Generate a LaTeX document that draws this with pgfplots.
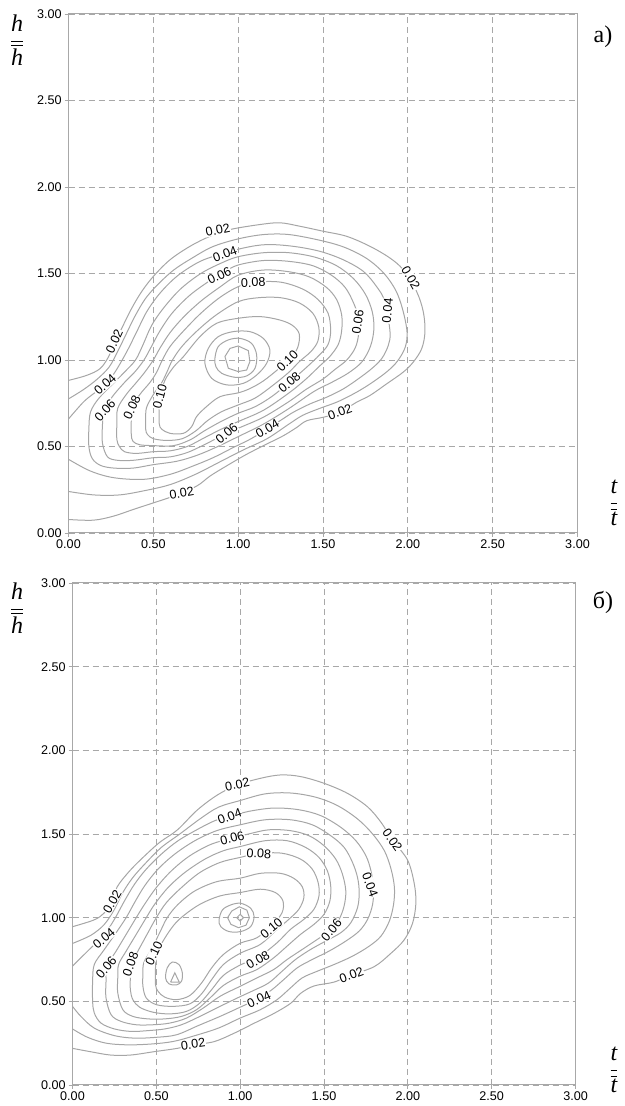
\documentclass[border=0pt]{standalone}
\usepackage{fontspec}
\setmainfont{Liberation Sans}
\newfontfamily\serifrm{Liberation Serif}
\usepackage{pgfplots}
\pgfplotsset{compat=1.18}

\definecolor{cline}{HTML}{A6A6A6}
\definecolor{gridc}{HTML}{A8A8A8}

\pgfplotsset{
  panel/.style={
    scale only axis,
    xmin=0, xmax=3, ymin=0, ymax=3,
    xtick={0,0.5,1,1.5,2,2.5,3},
    ytick={0,0.5,1,1.5,2,2.5,3},
    tick pos=left,
    grid=major,
    major grid style={gridc, dash pattern=on 3pt off 2pt, line width=0.45pt},
    axis line style={gridc, line width=0.5pt},
    tick style={gridc, line width=0.45pt},
    tick align=outside, major tick length=2pt,
    tick label style={font=\fontsize{6.3}{7.5}\selectfont, inner sep=1.2pt},
    /pgf/number format/.cd, fixed, fixed zerofill, precision=2, assume math mode=true,
    /pgfplots/.cd,
  },
  cl/.style={cline, line width=0.5pt, smooth cycle, tension=0.55},
  co/.style={cline, line width=0.5pt, smooth, tension=0.55},
  cp/.style={cline, line width=0.5pt},
}
\tikzset{clabel/.style={font=\fontsize{6.3}{7.5}\selectfont, fill=white, inner sep=0.3pt}}
\newcommand{\clab}[4]{\node[clabel, rotate=#3] at (axis cs:#1,#2) {#4};}

\begin{document}
\begin{tikzpicture}
\useasboundingbox (0,0) rectangle (312.5pt,553pt);

% ---------------- panel a ----------------
\begin{axis}[panel, at={(34.25pt,286.5pt)}, anchor=south west, width=254.5pt, height=259.5pt]
% 0.02
\addplot[co] coordinates {(0,0.882) (0.107,0.911) (0.186,0.950) (0.235,1.017) (0.274,1.105) (0.313,1.182) (0.372,1.298) (0.431,1.395) (0.500,1.483) (0.598,1.579) (0.716,1.657) (0.834,1.715) (0.952,1.754) (1.129,1.783) (1.247,1.793) (1.364,1.773) (1.502,1.744) (1.639,1.715) (1.777,1.657) (1.895,1.589) (1.973,1.521) (2.052,1.395) (2.091,1.279) (2.101,1.163) (2.082,1.066) (2.032,0.988) (1.973,0.930) (1.875,0.862) (1.777,0.795) (1.698,0.756) (1.600,0.698) (1.502,0.669) (1.404,0.649) (1.345,0.610) (1.266,0.562) (1.168,0.514) (1.050,0.455) (0.932,0.388) (0.834,0.329) (0.755,0.271) (0.618,0.213) (0.500,0.174) (0.382,0.136) (0.264,0.097) (0.146,0.074) (0,0.078)};
% 0.03
\addplot[co] coordinates {(0,0.775) (0.09,0.83) (0.17,0.89) (0.24,0.96) (0.29,1.05) (0.34,1.15) (0.39,1.25) (0.45,1.35) (0.52,1.43) (0.62,1.52) (0.73,1.59) (0.85,1.655) (1.0,1.70) (1.15,1.725) (1.30,1.725) (1.49,1.69) (1.63,1.65) (1.76,1.585) (1.86,1.50) (1.93,1.40) (1.97,1.29) (1.995,1.165) (1.985,1.075) (1.94,0.995) (1.88,0.935) (1.79,0.87) (1.70,0.815) (1.59,0.76) (1.48,0.72) (1.38,0.68) (1.30,0.63) (1.17,0.545) (1.03,0.48) (0.89,0.41) (0.75,0.34) (0.60,0.28) (0.45,0.245) (0.30,0.22) (0.15,0.22) (0,0.24)};
% 0.04
\addplot[co] coordinates {(0,0.659) (0.087,0.756) (0.146,0.804) (0.215,0.853) (0.274,0.930) (0.343,1.047) (0.402,1.163) (0.461,1.279) (0.539,1.386) (0.638,1.483) (0.756,1.560) (0.854,1.599) (1.030,1.647) (1.168,1.667) (1.325,1.657) (1.482,1.628) (1.620,1.579) (1.738,1.512) (1.816,1.424) (1.865,1.337) (1.895,1.163) (1.885,1.085) (1.846,1.008) (1.787,0.950) (1.708,0.891) (1.620,0.833) (1.522,0.785) (1.423,0.746) (1.325,0.698) (1.247,0.649) (1.089,0.552) (0.971,0.494) (0.854,0.436) (0.736,0.388) (0.599,0.339) (0.441,0.310) (0.264,0.320) (0.127,0.359) (0,0.426)};
% 0.05
\addplot[cl] coordinates {(0.12,0.50) (0.12,0.60) (0.13,0.70) (0.18,0.78) (0.26,0.86) (0.33,0.93) (0.395,1.0) (0.44,1.09) (0.49,1.20) (0.56,1.30) (0.66,1.41) (0.78,1.50) (0.90,1.56) (1.0,1.597) (1.15,1.62) (1.30,1.62) (1.45,1.595) (1.58,1.545) (1.68,1.47) (1.75,1.38) (1.79,1.28) (1.80,1.18) (1.78,1.08) (1.73,0.99) (1.65,0.925) (1.55,0.87) (1.45,0.82) (1.30,0.72) (1.15,0.63) (1.0,0.557) (0.88,0.50) (0.76,0.45) (0.64,0.415) (0.5,0.395) (0.38,0.375) (0.27,0.375) (0.19,0.39) (0.14,0.43)};
% 0.06
\addplot[cl] coordinates {(0.20,0.52) (0.20,0.62) (0.21,0.71) (0.26,0.79) (0.33,0.87) (0.39,0.93) (0.445,1.0) (0.49,1.08) (0.54,1.17) (0.61,1.27) (0.71,1.37) (0.82,1.45) (0.92,1.51) (1.0,1.549) (1.15,1.575) (1.30,1.57) (1.44,1.545) (1.55,1.49) (1.63,1.42) (1.68,1.33) (1.71,1.24) (1.71,1.15) (1.69,1.07) (1.64,1.00) (1.57,0.945) (1.50,0.89) (1.40,0.83) (1.30,0.76) (1.15,0.67) (1.0,0.605) (0.90,0.56) (0.80,0.51) (0.70,0.465) (0.60,0.44) (0.5,0.435) (0.38,0.42) (0.29,0.42) (0.23,0.44)};
% 0.07
\addplot[cl] coordinates {(0.285,0.54) (0.285,0.63) (0.29,0.72) (0.34,0.80) (0.40,0.87) (0.45,0.93) (0.50,1.0) (0.54,1.07) (0.60,1.16) (0.68,1.25) (0.78,1.34) (0.89,1.42) (1.0,1.49) (1.15,1.52) (1.30,1.51) (1.42,1.48) (1.52,1.42) (1.58,1.35) (1.61,1.26) (1.61,1.17) (1.59,1.09) (1.54,1.02) (1.48,0.965) (1.40,0.89) (1.30,0.81) (1.15,0.71) (1.0,0.644) (0.90,0.60) (0.80,0.55) (0.70,0.50) (0.60,0.475) (0.5,0.47) (0.40,0.46) (0.33,0.47) (0.30,0.50)};
% 0.08
\addplot[cl] coordinates {(0.37,0.57) (0.37,0.65) (0.375,0.725) (0.42,0.80) (0.48,0.87) (0.52,0.93) (0.553,1.0) (0.60,1.08) (0.68,1.17) (0.78,1.27) (0.89,1.36) (1.0,1.424) (1.10,1.45) (1.25,1.45) (1.38,1.41) (1.47,1.35) (1.53,1.27) (1.545,1.17) (1.53,1.09) (1.48,1.03) (1.40,0.955) (1.30,0.87) (1.20,0.79) (1.10,0.73) (1.0,0.692) (0.90,0.645) (0.80,0.59) (0.72,0.54) (0.62,0.505) (0.5,0.505) (0.42,0.51) (0.38,0.53)};
% 0.09
\addplot[cl] coordinates {(0.455,0.60) (0.455,0.66) (0.46,0.725) (0.50,0.80) (0.55,0.87) (0.58,0.93) (0.613,1.0) (0.67,1.08) (0.76,1.17) (0.87,1.26) (1.0,1.337) (1.12,1.36) (1.25,1.36) (1.36,1.33) (1.44,1.27) (1.475,1.19) (1.47,1.11) (1.43,1.05) (1.36,0.99) (1.30,0.93) (1.20,0.85) (1.10,0.78) (1.0,0.74) (0.90,0.70) (0.82,0.65) (0.75,0.59) (0.67,0.545) (0.58,0.535) (0.50,0.545) (0.465,0.57)};
% 0.10
\addplot[cl] coordinates {(0.535,0.63) (0.535,0.72) (0.545,0.80) (0.569,0.884) (0.62,0.96) (0.677,1.019) (0.775,1.135) (0.873,1.212) (1.0,1.241) (1.128,1.251) (1.246,1.231) (1.32,1.20) (1.36,1.15) (1.35,1.07) (1.30,1.00) (1.24,0.95) (1.15,0.88) (1.07,0.835) (1.0,0.81) (0.893,0.788) (0.814,0.731) (0.755,0.673) (0.726,0.615) (0.677,0.576) (0.598,0.576) (0.55,0.60)};
% 0.11
\addplot[cl] coordinates {(0.804,0.981) (0.824,1.067) (0.883,1.135) (0.971,1.164) (1.069,1.164) (1.148,1.125) (1.187,1.058) (1.168,0.981) (1.109,0.913) (1.030,0.865) (0.932,0.856) (0.844,0.894)};
% 0.12
\addplot[cl] coordinates {(0.863,1.010) (0.883,1.078) (0.942,1.116) (1.010,1.125) (1.079,1.096) (1.109,1.029) (1.099,0.952) (1.050,0.908) (0.981,0.900) (0.903,0.923) (0.869,0.961)};
% 0.13
\addplot[cp] coordinates {(0.922,1.020) (0.952,1.067) (1.0,1.081) (1.06,1.054) (1.069,0.991) (1.05,0.942) (1.0,0.933) (0.942,0.952) (0.922,1.020)};

\clab{0.88}{1.752}{12}{0.02}
\clab{0.27}{1.108}{65}{0.02}
\clab{2.017}{1.473}{-60}{0.02}
\clab{1.60}{0.700}{20}{0.02}
\clab{0.667}{0.230}{10}{0.02}
\clab{0.215}{0.858}{42}{0.04}
\clab{0.922}{1.612}{20}{0.04}
\clab{1.880}{1.285}{85}{0.04}
\clab{1.172}{0.603}{30}{0.04}
\clab{0.215}{0.710}{48}{0.06}
\clab{0.889}{1.488}{25}{0.06}
\clab{1.705}{1.221}{82}{0.06}
\clab{0.932}{0.575}{40}{0.06}
\clab{0.374}{0.725}{65}{0.08}
\clab{1.089}{1.448}{2}{0.08}
\clab{1.302}{0.870}{40}{0.08}
\clab{0.538}{0.790}{75}{0.10}
\clab{1.290}{0.995}{45}{0.10}
\end{axis}

% ---------------- panel b ----------------
\begin{axis}[panel, at={(36.25pt,10.5pt)}, anchor=south west, width=251.5pt, height=251pt]
% 0.02
\addplot[co] coordinates {(0,0.946) (0.127,0.986) (0.187,1.026) (0.237,1.096) (0.267,1.185) (0.346,1.285) (0.446,1.384) (0.525,1.454) (0.625,1.524) (0.744,1.643) (0.864,1.733) (0.983,1.793) (1.122,1.833) (1.242,1.853) (1.361,1.843) (1.500,1.803) (1.640,1.743) (1.759,1.663) (1.840,1.570) (1.908,1.464) (1.998,1.345) (2.038,1.205) (2.048,1.086) (2.028,0.966) (1.978,0.867) (1.899,0.787) (1.799,0.707) (1.660,0.657) (1.560,0.615) (1.441,0.592) (1.361,0.548) (1.301,0.488) (1.202,0.428) (1.083,0.369) (0.963,0.309) (0.844,0.259) (0.714,0.239) (0.625,0.219) (0.486,0.199) (0.346,0.179) (0.227,0.179) (0.107,0.199) (0,0.219)};
% 0.03
\addplot[co] coordinates {(0,0.846) (0.11,0.895) (0.19,0.96) (0.25,1.05) (0.30,1.15) (0.36,1.24) (0.44,1.33) (0.53,1.42) (0.64,1.50) (0.76,1.59) (0.87,1.66) (1.0,1.70) (1.15,1.74) (1.30,1.745) (1.45,1.72) (1.58,1.67) (1.70,1.59) (1.79,1.50) (1.86,1.40) (1.90,1.29) (1.92,1.18) (1.915,1.08) (1.89,0.98) (1.84,0.89) (1.77,0.83) (1.67,0.77) (1.56,0.72) (1.46,0.68) (1.37,0.64) (1.30,0.58) (1.22,0.51) (1.12,0.45) (1.0,0.40) (0.87,0.34) (0.73,0.295) (0.60,0.26) (0.47,0.245) (0.33,0.24) (0.20,0.25) (0.09,0.285) (0,0.335)};
% 0.04
\addplot[co] coordinates {(0,0.71) (0.09,0.80) (0.187,0.896) (0.25,0.99) (0.31,1.10) (0.37,1.20) (0.44,1.29) (0.53,1.38) (0.63,1.46) (0.75,1.53) (0.85,1.58) (0.937,1.604) (1.05,1.635) (1.20,1.655) (1.35,1.645) (1.48,1.61) (1.60,1.54) (1.69,1.46) (1.75,1.37) (1.78,1.28) (1.795,1.18) (1.79,1.08) (1.76,0.99) (1.71,0.92) (1.63,0.86) (1.53,0.80) (1.43,0.75) (1.34,0.70) (1.26,0.63) (1.19,0.57) (1.112,0.518) (1.0,0.465) (0.88,0.41) (0.75,0.355) (0.62,0.30) (0.50,0.285) (0.37,0.28) (0.25,0.295) (0.13,0.34) (0.05,0.41) (0,0.47)};
% 0.05
\addplot[cl] coordinates {(0.12,0.50) (0.12,0.62) (0.13,0.72) (0.19,0.81) (0.26,0.91) (0.32,1.0) (0.37,1.09) (0.43,1.19) (0.51,1.29) (0.61,1.38) (0.73,1.46) (0.86,1.52) (1.0,1.555) (1.15,1.585) (1.30,1.585) (1.43,1.555) (1.54,1.49) (1.62,1.42) (1.67,1.33) (1.70,1.24) (1.71,1.15) (1.70,1.06) (1.66,0.97) (1.60,0.91) (1.51,0.86) (1.42,0.81) (1.33,0.75) (1.25,0.68) (1.17,0.61) (1.08,0.565) (1.0,0.528) (0.88,0.47) (0.76,0.41) (0.65,0.36) (0.55,0.335) (0.45,0.325) (0.35,0.32) (0.25,0.335) (0.17,0.37) (0.13,0.43)};
% 0.06
\addplot[cl] coordinates {(0.20,0.52) (0.20,0.62) (0.205,0.71) (0.26,0.80) (0.32,0.90) (0.38,1.0) (0.43,1.08) (0.50,1.18) (0.59,1.28) (0.70,1.37) (0.83,1.44) (0.953,1.474) (1.05,1.50) (1.17,1.525) (1.30,1.52) (1.41,1.49) (1.50,1.43) (1.57,1.35) (1.61,1.26) (1.63,1.16) (1.62,1.07) (1.59,0.99) (1.54,0.926) (1.46,0.87) (1.37,0.81) (1.28,0.75) (1.20,0.69) (1.10,0.64) (1.0,0.59) (0.88,0.53) (0.78,0.46) (0.68,0.40) (0.58,0.37) (0.48,0.36) (0.38,0.36) (0.29,0.38) (0.23,0.42)};
% 0.07
\addplot[cl] coordinates {(0.27,0.55) (0.27,0.64) (0.275,0.72) (0.32,0.80) (0.38,0.90) (0.44,1.0) (0.49,1.08) (0.57,1.18) (0.67,1.27) (0.79,1.35) (0.90,1.40) (1.0,1.425) (1.15,1.46) (1.28,1.46) (1.39,1.42) (1.47,1.36) (1.52,1.28) (1.54,1.19) (1.535,1.10) (1.50,1.02) (1.44,0.96) (1.36,0.90) (1.28,0.83) (1.20,0.76) (1.10,0.69) (1.0,0.65) (0.90,0.595) (0.82,0.52) (0.74,0.45) (0.65,0.41) (0.55,0.395) (0.45,0.395) (0.36,0.41) (0.30,0.45)};
% 0.08
\addplot[cl] coordinates {(0.345,0.57) (0.345,0.65) (0.346,0.717) (0.39,0.80) (0.45,0.91) (0.50,1.0) (0.56,1.09) (0.65,1.18) (0.76,1.27) (0.88,1.33) (1.0,1.36) (1.112,1.384) (1.25,1.385) (1.36,1.35) (1.43,1.29) (1.465,1.21) (1.47,1.13) (1.44,1.05) (1.38,0.99) (1.30,0.93) (1.22,0.85) (1.11,0.765) (1.0,0.717) (0.90,0.655) (0.83,0.57) (0.76,0.49) (0.68,0.44) (0.58,0.425) (0.48,0.435) (0.40,0.465) (0.36,0.51)};
% 0.09
\addplot[cl] coordinates {(0.42,0.59) (0.42,0.66) (0.425,0.73) (0.47,0.81) (0.52,0.91) (0.565,1.0) (0.63,1.08) (0.73,1.16) (0.86,1.215) (1.0,1.236) (1.12,1.265) (1.24,1.265) (1.32,1.235) (1.37,1.185) (1.38,1.12) (1.35,1.05) (1.29,0.99) (1.21,0.92) (1.12,0.84) (1.0,0.787) (0.90,0.72) (0.83,0.63) (0.77,0.545) (0.70,0.485) (0.60,0.47) (0.50,0.48) (0.44,0.52)};
% 0.10
\addplot[cl] coordinates {(0.495,0.60) (0.495,0.70) (0.50,0.777) (0.54,0.86) (0.60,0.95) (0.66,1.01) (0.76,1.08) (0.88,1.13) (1.0,1.15) (1.12,1.17) (1.21,1.15) (1.255,1.10) (1.25,1.03) (1.19,0.955) (1.10,0.88) (1.0,0.847) (0.90,0.78) (0.83,0.70) (0.77,0.61) (0.70,0.535) (0.62,0.51) (0.55,0.525) (0.51,0.56)};
% 0.11 (two peaks)
\addplot[cl] coordinates {(0.874,0.987) (0.894,1.046) (0.943,1.076) (1.003,1.086) (1.063,1.056) (1.083,1.007) (1.063,0.947) (1.003,0.917) (0.933,0.917) (0.884,0.947)};
\addplot[cl] coordinates {(0.555,0.64) (0.565,0.70) (0.595,0.735) (0.635,0.72) (0.655,0.67) (0.65,0.62) (0.62,0.598) (0.575,0.605)};
% 0.12
\addplot[cp] coordinates {(0.925,1.0) (0.95,1.04) (0.995,1.065) (1.04,1.045) (1.055,1.0) (1.035,0.955) (0.99,0.94) (0.945,0.96) (0.925,1.0)};
\addplot[cp] coordinates {(0.585,0.615) (0.61,0.67) (0.637,0.615) (0.585,0.615)};
% 0.13
\addplot[cp] coordinates {(0.98,1.0) (1.0,1.02) (1.02,1.0) (1.0,0.98) (0.98,1.0)};

\clab{0.983}{1.795}{12}{0.02}
\clab{0.237}{1.096}{60}{0.02}
\clab{1.908}{1.464}{-55}{0.02}
\clab{1.664}{0.657}{20}{0.02}
\clab{0.719}{0.243}{8}{0.02}
\clab{0.187}{0.876}{40}{0.04}
\clab{0.937}{1.604}{20}{0.04}
\clab{1.775}{1.195}{-70}{0.04}
\clab{1.112}{0.512}{25}{0.04}
\clab{0.201}{0.703}{50}{0.06}
\clab{0.953}{1.474}{15}{0.06}
\clab{1.544}{0.926}{50}{0.06}
\clab{0.346}{0.723}{70}{0.08}
\clab{1.112}{1.384}{-3}{0.08}
\clab{1.106}{0.747}{30}{0.08}
\clab{0.486}{0.787}{65}{0.10}
\clab{1.186}{0.936}{40}{0.10}
\end{axis}

% panel letters and axis names
\node[font=\serifrm\fontsize{12}{14}\selectfont] at (301.5pt,534.5pt) {a)};
\node[font=\serifrm\fontsize{12}{14}\selectfont] at (301.5pt,252pt) {б)};
\node[font=\serifrm\fontsize{12}{14}\selectfont] at (8.5pt,533pt) {$\displaystyle\frac{\textit{h}}{\overline{\textit{h}}}$};
\node[font=\serifrm\fontsize{12}{14}\selectfont] at (8.5pt,249pt) {$\displaystyle\frac{\textit{h}}{\overline{\textit{h}}}$};
\node[font=\serifrm\fontsize{12}{14}\selectfont] at (307pt,301.5pt) {$\displaystyle\frac{\textit{t}}{\overline{\textit{t}}}$};
\node[font=\serifrm\fontsize{12}{14}\selectfont] at (307pt,18pt) {$\displaystyle\frac{\textit{t}}{\overline{\textit{t}}}$};
\end{tikzpicture}
\end{document}
